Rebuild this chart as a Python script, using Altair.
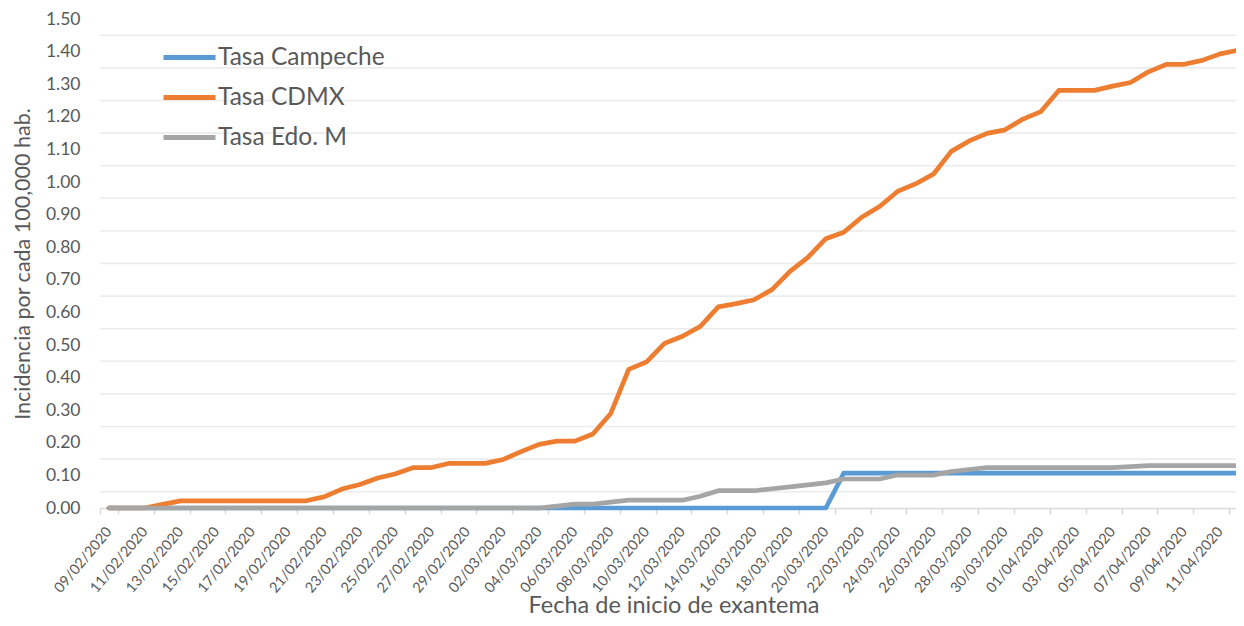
import altair as alt
import pandas as pd
from datetime import date, timedelta

# Category labels (one per day, 09/02/2020 .. 12/04/2020)
inicio = date(2020, 2, 9)
fechas = [(inicio + timedelta(days=i)).strftime("%d/%m/%Y") for i in range(64)]

series = ["Tasa Campeche", "Tasa CDMX", "Tasa Edo. M"]
colores = ["#5B9BD5", "#ED7D31", "#A5A5A5"]

campeche = [0, 0, 0, 0, 0, 0, 0, 0, 0, 0,
            0, 0, 0, 0, 0, 0, 0, 0, 0, 0,
            0, 0, 0, 0, 0, 0, 0, 0, 0, 0,
            0, 0, 0, 0, 0, 0, 0, 0, 0, 0,
            0, 0.107, 0.107, 0.107, 0.107, 0.107, 0.107, 0.107, 0.107, 0.107,
            0.107, 0.107, 0.107, 0.107, 0.107, 0.107, 0.107, 0.107, 0.107, 0.107,
            0.107, 0.107, 0.107, 0.107]

cdmx = [0, 0, 0, 0.011, 0.022, 0.022, 0.022, 0.022, 0.022, 0.022,
        0.022, 0.022, 0.034, 0.058, 0.072, 0.092, 0.105, 0.124, 0.124, 0.137,
        0.137, 0.137, 0.149, 0.173, 0.195, 0.205, 0.205, 0.227, 0.290, 0.425,
        0.448, 0.505, 0.527, 0.557, 0.617, 0.627, 0.639, 0.670, 0.726, 0.769,
        0.826, 0.846, 0.892, 0.925, 0.971, 0.994, 1.024, 1.094, 1.126, 1.149,
        1.160, 1.193, 1.216, 1.281, 1.281, 1.281, 1.294, 1.305, 1.338, 1.361,
        1.361, 1.373, 1.393, 1.404]

edomex = [0, 0, 0, 0, 0, 0, 0, 0, 0, 0,
          0, 0, 0, 0, 0, 0, 0, 0, 0, 0,
          0, 0, 0, 0, 0, 0.006, 0.012, 0.012, 0.018, 0.024,
          0.024, 0.024, 0.024, 0.036, 0.053, 0.053, 0.053, 0.059, 0.065, 0.071,
          0.077, 0.089, 0.089, 0.089, 0.101, 0.101, 0.101, 0.112, 0.118, 0.124,
          0.124, 0.124, 0.124, 0.124, 0.124, 0.124, 0.124, 0.127, 0.130, 0.130,
          0.130, 0.130, 0.130, 0.130]

y_ticks = [0.0, 0.1, 0.2, 0.3, 0.4, 0.5, 0.6, 0.7, 0.8, 0.9, 1.0, 1.1, 1.2, 1.3, 1.4, 1.5]
grid_vals = [0.05, 0.15, 0.25, 0.35, 0.45, 0.55, 0.65, 0.75, 0.85, 0.95,
             1.05, 1.15, 1.25, 1.35, 1.45]

rows = []
for nombre, vals in zip(series, [campeche, cdmx, edomex]):
    for f, v in zip(fechas, vals):
        rows.append({"fecha": f, "serie": nombre, "valor": v})
df = pd.DataFrame(rows)
grid_df = pd.DataFrame({"valor": grid_vals})

FONT = "Lato"
TXT = "#595959"

y_scale = alt.Scale(domain=[0, 1.5], nice=False, zero=True)
y_axis = alt.Axis(
    values=y_ticks,
    format=".2f",
    grid=False,
    ticks=False,
    domain=False,
    labelFont=FONT,
    labelFontSize=17.5,
    labelColor=TXT,
    labelPadding=20,
    title="Incidencia por cada 100,000 hab.",
    titleFont=FONT,
    titleFontSize=21.5,
    titleFontWeight="normal",
    titleColor=TXT,
    titlePadding=11,
)

grid = alt.Chart(grid_df).mark_rule(color="#ececec", strokeWidth=1.6).encode(
    y=alt.Y("valor:Q", scale=y_scale, axis=y_axis)
)

lines = alt.Chart(df).mark_line(strokeWidth=4.7, strokeCap="round", strokeJoin="round").encode(
    x=alt.X(
        "fecha:O",
        sort=fechas,
        scale=alt.Scale(type="band", paddingInner=0, paddingOuter=0, range=[0, 1147]),
        axis=alt.Axis(
            values=fechas[::2],
            labelAngle=310,
            labelAlign="right",
            labelBaseline="middle",
            labelFontSize=14.5,
            labelColor=TXT,
            labelFont=FONT,
            labelPadding=15,
            tickBand="extent",
            ticks=True,
            tickSize=6,
            tickColor="#d9d9d9",
            tickWidth=1.5,
            domainColor="#d9d9d9",
            domainWidth=1.5,
            grid=False,
            labelOverlap=False,
            title="Fecha de inicio de exantema",
            titleFont=FONT,
            titleFontSize=23.5,
            titleFontWeight="normal",
            titleColor=TXT,
            titleBaseline="top",
            titleY=85,
        ),
    ),
    y=alt.Y("valor:Q", scale=y_scale, axis=y_axis),
    color=alt.Color(
        "serie:N",
        sort=series,
        scale=alt.Scale(domain=series, range=colores),
        legend=alt.Legend(
            title=None,
            orient="none",
            legendX=61,
            legendY=10,
            symbolType="stroke",
            symbolSize=2704,
            symbolStrokeWidth=5,
            labelFont=FONT,
            labelFontSize=24.5,
            labelColor=TXT,
            labelOffset=0,
            labelLimit=400,
            rowPadding=-0.5,
            padding=0,
        ),
    ),
)

chart = alt.layer(grid, lines).properties(
    width=1136,
    height=489,
    autosize=alt.AutoSizeParams(type="none"),
    padding={"left": 92, "top": 11, "right": 0, "bottom": 110},
    background="white",
).configure_view(stroke=None)

chart.save("out.html", embed_options={"renderer": "svg", "actions": False})
